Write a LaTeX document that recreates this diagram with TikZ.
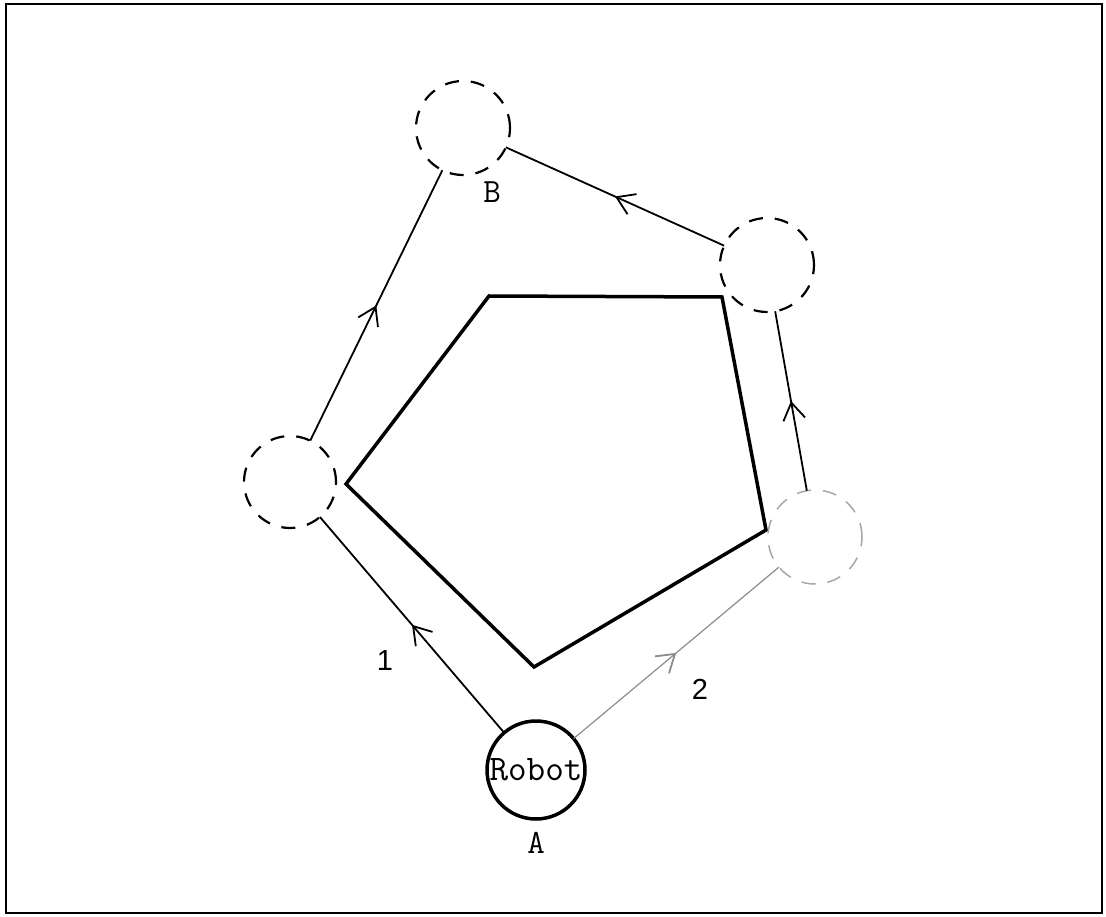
\documentclass[tikz,border=0pt]{standalone}
\usepackage{fontspec}
\usetikzlibrary{arrows.meta,decorations.markings}
\begin{document}
\begin{tikzpicture}[x=1pt,y=-1pt,
  waypt/.style={circle,draw,dash pattern=on 14pt off 12pt,line width=2.2pt,minimum size=94pt,inner sep=0pt,outer sep=0pt},
  faintpt/.style={waypt,draw=black!35,line width=1.5pt},
  robotnode/.style={circle,draw,line width=3.5pt,minimum size=98pt,inner sep=0pt,outer sep=0pt,font=\ttfamily\fontsize{36}{38}\selectfont},
  pathseg/.style={line width=1.8pt,postaction={decorate},decoration={markings,mark=at position 0.5 with {\arrow{Straight Barb[length=17pt,width=22pt,line width=1.8pt]}}}},
  faintseg/.style={pathseg,draw=black!45,line width=1.2pt},
  lbl/.style={font=\ttfamily\fontsize{34}{36}\selectfont,inner sep=0pt},
  numlbl/.style={font=\fontspec{Liberation Sans}\fontsize{29}{31}\selectfont,inner sep=0pt}
]
\useasboundingbox (0,0) rectangle (1106,917);
\draw[line width=2.2pt] (6,4) rectangle (1102,913);
% obstacle
\draw[line width=3.5pt,line join=miter] (489,296) -- (722,297) -- (766,530) -- (534,667) -- (346,484) -- cycle;
% nodes
\node[robotnode] (robot) at (536,770) {Robot};
\node[lbl] (alab) at (536,843) {A};
\node[waypt] (wb) at (463,128) {};
\node[lbl] (blab) at (492,192) {B};
\node[waypt,minimum size=92pt] (wl) at (290,482) {};
\node[waypt] (wtr) at (767,265) {};
\node[faintpt] (wbr) at (815,537) {};
% path 1
\draw[pathseg] (robot) -- (wl);
\draw[pathseg] (wl) -- (wb);
\node[numlbl] (n1) at (385,661) {1};
% path 2
\draw[faintseg] (robot) -- (wbr);
\draw[pathseg] (wbr) -- (wtr);
\draw[pathseg] (wtr) -- (wb);
\node[numlbl] (n2) at (700,689) {2};
\end{tikzpicture}
\end{document}
